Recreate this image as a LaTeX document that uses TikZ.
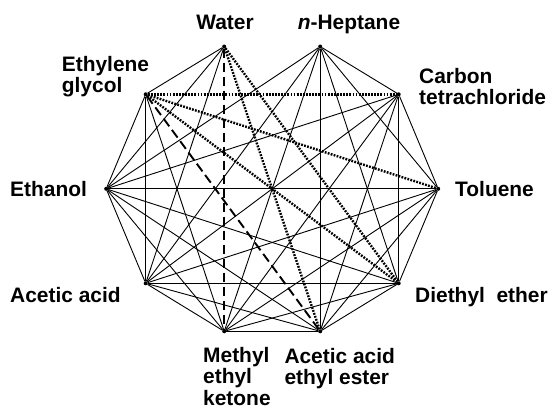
\documentclass[tikz,border=0pt]{standalone}
\usepackage{fontspec}
\setmainfont{Liberation Sans}
\begin{document}
\begin{tikzpicture}[x=1bp,y=-1bp,
  vtx/.style={circle,fill=black,inner sep=0pt,minimum size=4bp},
  lbl/.style={font={\fontsize{21}{21.7}\selectfont\bfseries},inner sep=0pt,align=left,text=black},
  solidedge/.style={line width=0.9bp,black},
  partial/.style={line width=2.4bp,black,dash pattern=on 1.8bp off 1.3bp},
  longdash/.style={line width=1.9bp,black,dash pattern=on 9.5bp off 4.5bp}]
\useasboundingbox (0,0) rectangle (550,409);
% vertices
\node[vtx] (wat) at (224.2,46.5) {};
\node[vtx] (hep) at (320.2,46.5) {};
\node[vtx] (cct) at (398.7,94.3) {};
\node[vtx] (tol) at (438.2,188.8) {};
\node[vtx] (dee) at (398.7,283.3) {};
\node[vtx] (aae) at (320.2,331.3) {};
\node[vtx] (mek) at (224.2,331.3) {};
\node[vtx] (aca) at (145.7,283.3) {};
\node[vtx] (eth) at (106.2,188.8) {};
\node[vtx] (egl) at (145.7,94.3) {};
% labels
\node[lbl,anchor=north] (lwat) at (225,15) {Water};
\node[lbl,anchor=north] (lhep) at (349,15) {\textit{n}-Heptane};
\node[lbl,anchor=north west] (lcct) at (419,68) {Carbon\\tetrachloride};
\node[lbl,anchor=north west] (ltol) at (455,181) {Toluene};
\node[lbl,anchor=north west] (ldee) at (415,287) {Diethyl\ \ ether};
\node[lbl,anchor=north west] (laae) at (284.3,348) {Acetic acid\\ethyl ester};
\node[lbl,anchor=north west] (lmek) at (203,347) {Methyl\\ethyl\\ketone};
\node[lbl,anchor=north west] (laca) at (10,287) {Acetic acid};
\node[lbl,anchor=north west] (leth) at (10,181) {Ethanol};
\node[lbl,anchor=north west] (legl) at (61.7,55.7) {Ethylene\\glycol};
% solid edges
\foreach \a/\b in {wat/egl,wat/eth,wat/aca,
  hep/cct,hep/tol,hep/dee,hep/aae,hep/mek,hep/aca,hep/eth,
  cct/tol,cct/dee,cct/aae,cct/mek,cct/aca,cct/eth,
  tol/dee,tol/aae,tol/mek,tol/aca,tol/eth,
  dee/aae,dee/mek,dee/aca,dee/eth,
  aae/mek,aae/aca,aae/eth,
  mek/aca,mek/eth,mek/egl,
  aca/eth,aca/egl,
  eth/egl}
  \draw[solidedge] (\a) -- (\b);
% partial (dotted)
\foreach \a/\b in {egl/cct,egl/tol,egl/dee,wat/aae,wat/dee}
  \draw[partial] (\a) -- (\b);
% dashed
\foreach \a/\b in {wat/mek,egl/aae}
  \draw[longdash] (\a) -- (\b);
\end{tikzpicture}
\end{document}
